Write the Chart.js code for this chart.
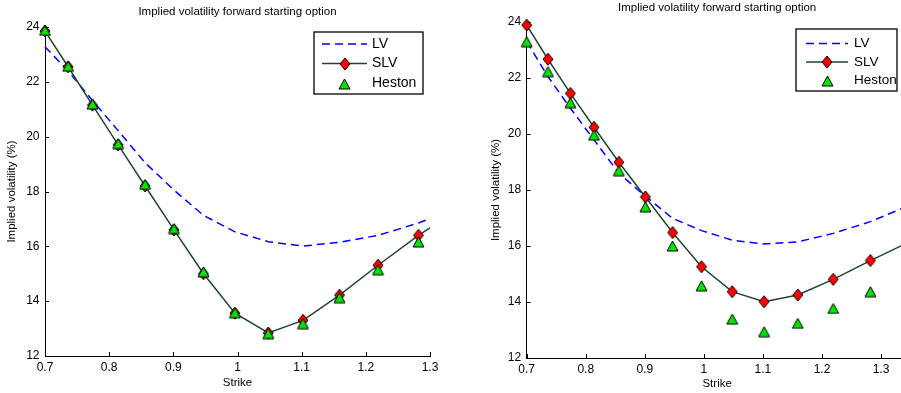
<!DOCTYPE html>
<html>
<head>
<meta charset="utf-8">
<title>Implied volatility forward starting option</title>
<script src="https://cdn.jsdelivr.net/npm/chart.js@4.4.1/dist/chart.umd.min.js"></script>
<style>
  html, body { margin: 0; padding: 0; background: #fff; overflow: hidden; }
  canvas { position: absolute; top: 0; }
  #volLeft { left: 0; }
  #volRight { left: 450px; }
</style>
</head>
<body>
<canvas id="volLeft" width="450" height="393"></canvas>
<canvas id="volRight" width="470" height="393"></canvas>
<script>
// strikes (last one lies just past the visible axis range)
const strikes = [0.700, 0.736, 0.774, 0.814, 0.856, 0.901, 0.947, 0.996, 1.048, 1.102, 1.159, 1.219, 1.282, 1.348];

// left panel, implied vols in %
const lvLeft     = [23.28, 22.40, 21.32, 20.22, 19.05, 18.05, 17.13, 16.53, 16.17, 16.01, 16.15, 16.40, 16.85, 17.45];
const slvLeft    = [23.85, 22.55, 21.15, 19.70, 18.20, 16.60, 15.00, 13.56, 12.84, 13.30, 14.22, 15.31, 16.40, 17.40];
const hestonLeft = [23.88, 22.57, 21.19, 19.75, 18.26, 16.65, 15.07, 13.58, 12.82, 13.18, 14.13, 15.15, 16.16];

// right panel
const lvRight     = [23.30, 22.05, 20.92, 19.79, 18.60, 17.78, 16.99, 16.55, 16.21, 16.07, 16.15, 16.45, 16.87, 17.45];
const slvRight    = [23.89, 22.67, 21.45, 20.24, 18.99, 17.75, 16.48, 15.26, 14.37, 14.01, 14.25, 14.81, 15.48, 16.15];
const hestonRight = [23.30, 22.23, 21.12, 19.96, 18.69, 17.40, 16.00, 14.58, 13.39, 12.94, 13.24, 13.77, 14.37];

const seriesNames = ['LV', 'SLV', 'Heston'];
const xTicks = [0.7, 0.8, 0.9, 1.0, 1.1, 1.2, 1.3];
const yTicks = [12, 14, 16, 18, 20, 22, 24];
const titleText = 'Implied volatility forward starting option';
const xLabel = 'Strike';
const yLabel = 'Implied volatility (%)';

const FONT = "'Liberation Sans', Arial, sans-serif";

// marker sprites, black edged like the matlab ones
function diamond(w, h, fill) {
  const c = document.createElement('canvas');
  c.width = w + 2; c.height = h + 2;
  const g = c.getContext('2d');
  g.beginPath();
  g.moveTo(1 + w / 2, 1);
  g.lineTo(1 + w, 1 + h / 2);
  g.lineTo(1 + w / 2, 1 + h);
  g.lineTo(1, 1 + h / 2);
  g.closePath();
  g.fillStyle = fill; g.fill();
  g.strokeStyle = '#000'; g.lineWidth = 1; g.stroke();
  return c;
}
function triangle(w, h, fill) {
  const c = document.createElement('canvas');
  c.width = w + 2; c.height = h + 2;
  const g = c.getContext('2d');
  g.beginPath();
  g.moveTo(1 + w / 2, 1);
  g.lineTo(1 + w, 1 + h);
  g.lineTo(1, 1 + h);
  g.closePath();
  g.fillStyle = fill; g.fill();
  g.strokeStyle = '#000'; g.lineWidth = 1; g.stroke();
  return c;
}
const redDiamond = diamond(10, 12, '#ff0000');
const greenTriangle = triangle(11, 10, '#00e400');

const pts = vals => vals.map((v, i) => ({ x: strikes[i], y: v }));

// matlab style ticks pointing into the axes
const inwardTicks = {
  id: 'inwardTicks',
  afterDatasetsDraw(chart) {
    const { ctx, chartArea: a, scales: { x, y } } = chart;
    ctx.save();
    ctx.strokeStyle = '#000';
    ctx.lineWidth = 1;
    ctx.beginPath();
    x.ticks.forEach(t => {
      const px = Math.round(x.getPixelForValue(t.value)) + 0.5;
      ctx.moveTo(px, a.bottom); ctx.lineTo(px, a.bottom - 4);
    });
    y.ticks.forEach(t => {
      const py = Math.round(y.getPixelForValue(t.value)) + 0.5;
      ctx.moveTo(a.left, py); ctx.lineTo(a.left + 4, py);
    });
    ctx.stroke();
    ctx.restore();
  }
};

// boxed legend with line samples + markers
const boxLegend = {
  id: 'boxLegend',
  afterDraw(chart, args, o) {
    const ctx = chart.ctx;
    const [l, t, r, b] = o.box;
    ctx.save();
    ctx.fillStyle = '#fff';
    ctx.fillRect(l, t, r - l, b - t);
    ctx.strokeStyle = '#000';
    ctx.lineWidth = 1.3;
    ctx.strokeRect(l, t, r - l, b - t);
    const mid = (o.lineX[0] + o.lineX[1]) / 2;
    chart.data.datasets.forEach((ds, i) => {
      const y = o.rows[i];
      if (ds.showLine !== false) {
        ctx.beginPath();
        ctx.setLineDash(ds.borderDash || []);
        ctx.strokeStyle = ds.borderColor;
        ctx.lineWidth = ds.borderWidth;
        ctx.moveTo(o.lineX[0], y);
        ctx.lineTo(o.lineX[1], y);
        ctx.stroke();
        ctx.setLineDash([]);
      }
      if (ds.pointRadius > 0) {
        const img = ds.pointStyle;
        ctx.drawImage(img, Math.round(mid - img.width / 2), Math.round(y - img.height / 2));
      }
      ctx.fillStyle = '#000';
      ctx.font = o.fontSize + 'px ' + FONT;
      ctx.textBaseline = 'middle';
      ctx.fillText(ds.label, o.textX, y);
    });
    ctx.restore();
  }
};

function volChart(id, lv, slv, heston, L) {
  return new Chart(document.getElementById(id), {
    type: 'line',
    data: {
      datasets: [
        {
          label: seriesNames[0], data: pts(lv), order: 2,
          borderColor: '#0000ff', borderWidth: 1.5, borderDash: [8, 5],
          pointRadius: 0, tension: 0, clip: { left: 8, top: 8, right: 0, bottom: 8 }
        },
        {
          label: seriesNames[1], data: pts(slv), order: 1,
          borderColor: '#1f4530', borderWidth: 1.5,
          pointStyle: redDiamond, pointRadius: 6, tension: 0,
          clip: { left: 8, top: 8, right: 0, bottom: 8 }
        },
        {
          label: seriesNames[2], data: pts(heston), order: 0, showLine: false,
          pointStyle: greenTriangle, pointRadius: 6,
          clip: { left: 8, top: 8, right: 0, bottom: 8 }
        }
      ]
    },
    options: {
      responsive: false,
      animation: false,
      devicePixelRatio: 1,
      layout: { padding: { left: 0, right: L.padRight, top: 0, bottom: 0 } },
      plugins: {
        legend: { display: false },
        tooltip: { enabled: false },
        title: {
          display: true, text: titleText, color: '#000', fullSize: false,
          font: { family: FONT, size: 11.5, weight: 'normal' },
          padding: { top: L.titleTop, bottom: L.titleBottom }
        },
        boxLegend: L.legend
      },
      scales: {
        x: {
          type: 'linear', min: 0.7, max: L.xMax,
          grid: { display: false, drawTicks: false, tickLength: 0 },
          border: { display: true, color: '#000', width: 1 },
          afterBuildTicks: s => { s.ticks = xTicks.map(v => ({ value: v })); },
          afterFit: s => { s.height = L.xHeight; },
          ticks: {
            color: '#000', padding: 4, maxRotation: 0, autoSkip: false,
            font: { family: FONT, size: 12 },
            callback: v => String(+v.toFixed(2))
          },
          title: {
            display: true, text: xLabel, color: '#000',
            font: { family: FONT, size: 11.5 },
            padding: { top: 0, bottom: L.xTitleBottom }
          }
        },
        y: {
          type: 'linear', min: 12, max: 24,
          grid: { display: false, drawTicks: false, tickLength: 0 },
          border: { display: true, color: '#000', width: 1 },
          afterBuildTicks: s => { s.ticks = yTicks.map(v => ({ value: v })); },
          afterFit: s => { s.width = L.yWidth; },
          ticks: { color: '#000', padding: 5.5, font: { family: FONT, size: 12 } },
          title: {
            display: true, text: yLabel, color: '#000',
            font: { family: FONT, size: 11.5 },
            padding: { top: L.yTitleTop, bottom: 0 }
          }
        }
      }
    },
    plugins: [inwardTicks, boxLegend]
  });
}

volChart('volLeft', lvLeft, slvLeft, hestonLeft, {
  padRight: 20, xMax: 1.3, titleTop: 5, titleBottom: 8.2,
  xHeight: 37, xTitleBottom: 3.4, yWidth: 45, yTitleTop: 5,
  legend: { box: [314, 32, 423, 94], rows: [44, 63.5, 83.5], lineX: [322, 367], textX: 372, fontSize: 14 }
});

volChart('volRight', lvRight, slvRight, hestonRight, {
  padRight: 12.4, xMax: 1.345, titleTop: 0.6, titleBottom: 7.6,
  xHeight: 35, xTitleBottom: 2.1, yWidth: 76.7, yTitleTop: 38.9,
  legend: { box: [346, 29, 447, 91], rows: [43.5, 62, 80.5], lineX: [356, 398], textX: 404, fontSize: 13.5 }
});
</script>
</body>
</html>
